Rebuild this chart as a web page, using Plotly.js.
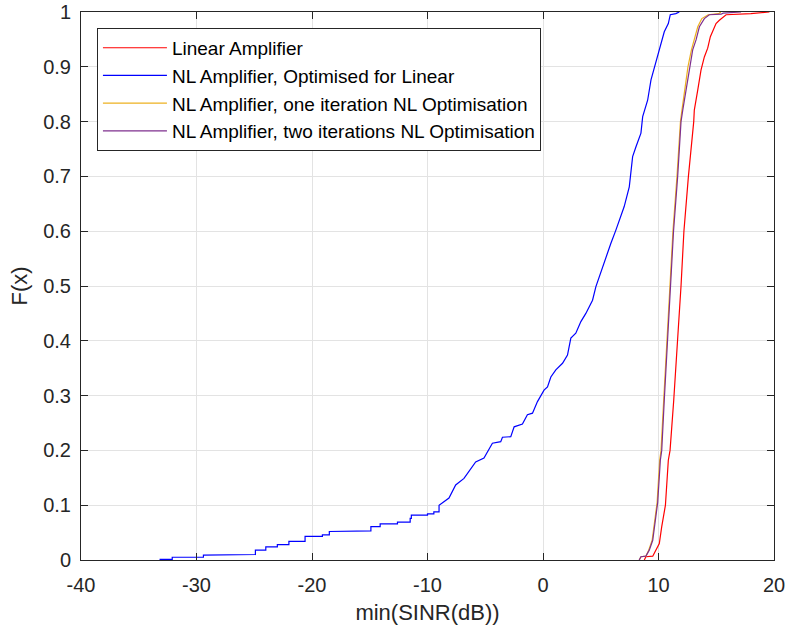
<!DOCTYPE html>
<html>
<head>
<meta charset="utf-8">
<script src="https://cdn.plot.ly/plotly-3.0.1.min.js"></script>
<style>html,body{margin:0;padding:0;background:#fff;}#chart{width:787px;height:631px;}</style>
</head>
<body>
<div id="chart"></div>
<script>
// Series names
const seriesNames = [
  "Linear Amplifier",
  "NL Amplifier, Optimised for Linear",
  "NL Amplifier, one iteration NL Optimisation",
  "NL Amplifier, two iterations NL Optimisation"
];

// Tick labels
const xTickVals = [-40, -30, -20, -10, 0, 10, 20];
const xTickLabels = ["-40", "-30", "-20", "-10", "0", "10", "20"];
const yTickVals = [0, 0.1, 0.2, 0.3, 0.4, 0.5, 0.6, 0.7, 0.8, 0.9, 1];
const yTickLabels = ["0", "0.1", "0.2", "0.3", "0.4", "0.5", "0.6", "0.7", "0.8", "0.9", "1"];

// Linear Amplifier (red)
const linearX = [8.77, 8.91, 9.5, 9.78, 10.07, 10.28, 10.5, 10.6, 10.85, 11.0, 11.32, 11.66, 11.95, 12.2, 12.59, 13.05, 13.1, 13.4, 13.68, 13.97, 14.26, 14.49, 14.7, 14.98, 15.27, 15.85, 18.0, 19.6];
const linearY = [0, 0.006, 0.007, 0.018, 0.030, 0.061, 0.091, 0.10, 0.182, 0.2, 0.292, 0.40, 0.5, 0.6, 0.70, 0.80, 0.821, 0.858, 0.894, 0.918, 0.934, 0.955, 0.964, 0.979, 0.985, 0.995, 0.997, 1.0];

// NL Amplifier, Optimised for Linear (blue) - left tail is a staircase (step at x, level after step)
const nlLinTailX = [-33.2, -32.1, -29.4, -25.8, -24.9, -24.0, -23.0, -22.0, -20.6, -19.1, -18.5, -16.1, -14.9, -14.1, -12.6, -11.5, -11.4, -10.0, -9.45];
const nlLinTailY = [0.001, 0.005, 0.009, 0.010, 0.018, 0.024, 0.028, 0.034, 0.043, 0.046, 0.052, 0.053, 0.061, 0.066, 0.069, 0.076, 0.082, 0.084, 0.088];
const nlLinX = [-9.0, -8.5, -8.14, -7.56, -6.84, -5.83, -5.11, -4.38, -3.66, -3.51, -2.79, -2.50, -1.78, -1.35, -0.91, -0.48, 0.09, 0.39, 0.68, 1.11, 1.69, 2.12, 2.41, 2.84, 3.28, 3.71, 4.29, 4.58, 5.01, 5.45, 5.88, 6.31, 6.75, 7.03, 7.47, 7.76, 8.05, 8.48, 8.63, 9.06, 9.35, 9.78, 9.93, 10.22, 10.50, 10.85, 11.02, 11.5, 11.8];
const nlLinY = [0.10, 0.108, 0.113, 0.137, 0.149, 0.179, 0.186, 0.213, 0.216, 0.224, 0.225, 0.243, 0.248, 0.265, 0.268, 0.289, 0.310, 0.316, 0.334, 0.347, 0.359, 0.374, 0.405, 0.414, 0.435, 0.450, 0.474, 0.499, 0.526, 0.551, 0.578, 0.602, 0.626, 0.645, 0.681, 0.736, 0.754, 0.779, 0.809, 0.839, 0.876, 0.909, 0.925, 0.943, 0.964, 0.979, 0.995, 0.997, 1.0];

// NL Amplifier, one iteration NL Optimisation (orange)
const nlOneX = [8.33, 8.48, 8.91, 9.15, 9.45, 9.65, 9.88, 10.1, 10.22, 10.45, 10.75, 11.02, 11.25, 11.6, 11.9, 12.03, 12.3, 12.55, 12.85, 13.1, 13.4, 13.75, 14.3, 15.2, 15.4];
const nlOneY = [0, 0.006, 0.007, 0.018, 0.036, 0.067, 0.105, 0.182, 0.2, 0.292, 0.40, 0.505, 0.6, 0.70, 0.80, 0.821, 0.858, 0.900, 0.931, 0.949, 0.973, 0.988, 0.995, 0.997, 1.0];

// NL Amplifier, two iterations NL Optimisation (purple)
const nlTwoX = [8.33, 8.48, 8.91, 9.2, 9.5, 9.7, 9.93, 10.16, 10.28, 10.5, 10.8, 11.08, 11.3, 11.66, 11.95, 12.1, 12.39, 12.67, 12.96, 13.25, 13.54, 13.97, 14.4, 15.42, 15.6, 17.15];
const nlTwoY = [0, 0.006, 0.007, 0.018, 0.036, 0.067, 0.105, 0.182, 0.2, 0.292, 0.40, 0.505, 0.6, 0.70, 0.80, 0.821, 0.858, 0.900, 0.931, 0.949, 0.973, 0.988, 0.995, 0.996, 0.998, 1.0];

// Build the blue trace: staircase (horizontal-then-vertical) through the tail, then the rest as read
const blueX = [], blueY = [];
const allBX = nlLinTailX.concat(nlLinX), allBY = nlLinTailY.concat(nlLinY);
for (let i = 0; i < allBX.length; i++) {
  blueX.push(allBX[i]); blueY.push(allBY[i]);
  if (i < nlLinTailX.length && i + 1 < allBX.length) {
    blueX.push(allBX[i + 1]); blueY.push(allBY[i]);
  }
}

const axisColor = '#262626';
const fontFam = '"Liberation Sans", Arial, Helvetica, sans-serif';

const traces = [
  {x: linearX, y: linearY, name: seriesNames[0], mode: 'lines', line: {color: '#FF0000', width: 1.2}},
  {x: blueX, y: blueY, name: seriesNames[1], mode: 'lines', line: {color: '#0000FF', width: 1.2}},
  {x: nlOneX, y: nlOneY, name: seriesNames[2], mode: 'lines', line: {color: '#EDB120', width: 1.2}},
  {x: nlTwoX, y: nlTwoY, name: seriesNames[3], mode: 'lines', line: {color: '#7E2F8E', width: 1.2}}
];

const axisCommon = {
  ticks: 'inside', ticklen: 7, tickwidth: 1, tickcolor: axisColor,
  showline: true, linecolor: axisColor, linewidth: 1, mirror: 'ticks',
  showgrid: true, gridcolor: '#e3e3e3', gridwidth: 1, zeroline: false,
  tickfont: {family: fontFam, size: 20, color: axisColor}
};

const layout = {
  width: 787, height: 631,
  margin: {l: 81, r: 13, t: 12, b: 71},
  paper_bgcolor: '#ffffff', plot_bgcolor: '#ffffff',
  font: {family: fontFam, color: axisColor},
  xaxis: Object.assign({}, axisCommon, {
    range: [-40, 20], tickmode: 'array', tickvals: xTickVals, ticktext: xTickLabels,
    ticklabelstandoff: 7,
    title: {text: 'min(SINR(dB))', font: {family: fontFam, size: 22, color: axisColor}, standoff: 9}
  }),
  yaxis: Object.assign({}, axisCommon, {
    range: [0, 1], tickmode: 'array', tickvals: yTickVals, ticktext: yTickLabels,
    ticklabelstandoff: 5,
    title: {text: 'F(x)', font: {family: fontFam, size: 22, color: axisColor}, standoff: 9}
  }),
  showlegend: true,
  legend: {
    x: 0.023, y: 0.971, xanchor: 'left', yanchor: 'top',
    bgcolor: '#ffffff', bordercolor: axisColor, borderwidth: 1,
    font: {family: fontFam, size: 19, color: '#000000'},
    itemwidth: 64
  }
};

Plotly.newPlot('chart', traces, layout, {displayModeBar: false, staticPlot: true});
</script>
</body>
</html>
